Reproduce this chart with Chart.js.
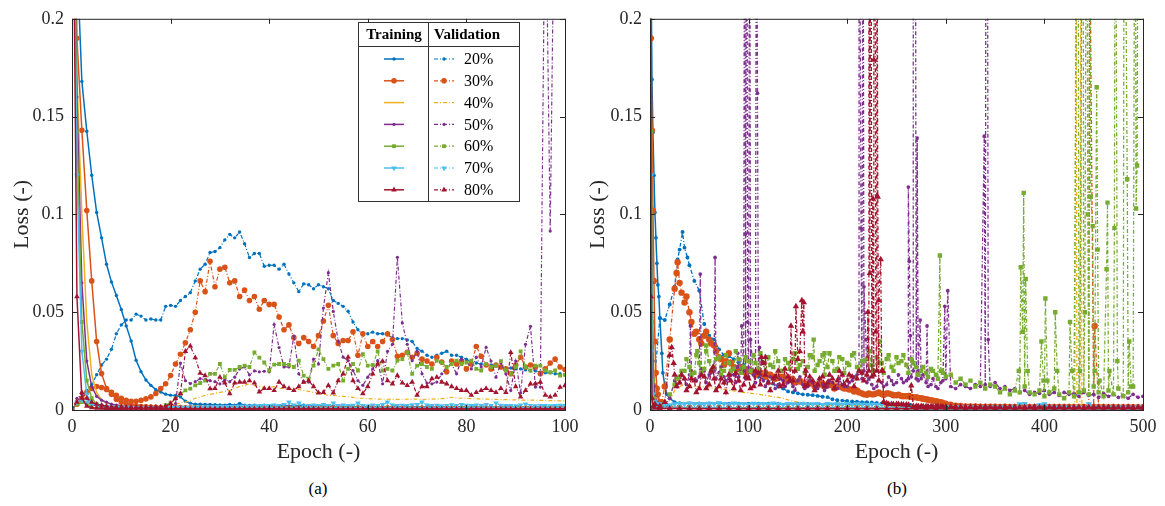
<!DOCTYPE html>
<html>
<head>
<meta charset="utf-8">
<script src="https://cdn.jsdelivr.net/npm/chart.js@4"></script>
<style>
  body { margin: 0; background: #fff; width: 1165px; height: 506px; position: relative; overflow: hidden; }
  .wrap { position: absolute; top: 0; height: 470px; }
  #wa { left: 0; width: 590px; }
  #wb { left: 580px; width: 585px; }
  .cap { position: absolute; top: 479px; width: 40px; text-align: center; font: 17px 'Liberation Serif', 'Times New Roman', serif; color: #000; }
</style>
</head>
<body>
<div class="wrap" id="wa"><canvas id="ca"></canvas></div>
<div class="wrap" id="wb"><canvas id="cb"></canvas></div>
<div class="cap" style="left:298px">(a)</div>
<div class="cap" style="left:877px">(b)</div>
<script>
// ---- data ----
const pctLabels = ['20%', '30%', '40%', '50%', '60%', '70%', '80%'];
const yTicks = { min: 0, max: 0.2, step: 0.05 };

// panel (a): one value per epoch, epochs 0..100
const epochsA = Array.from({ length: 101 }, (_, i) => i);

const trA20 = [.5,.232,.168,.1425,.120,.101,.088,.0745,.0655,.0585,
  .0514,.043,.0353,.0254,.0196,.0153,.0126,.0104,.0092,.0081,
  .0076,.0074,.0067,.0045,.0035,.003,.003,.0028,.0028,.0027,
  .0026,.0025,.0028,.0024,.0033,.0024,.0023,.0024,.0022,.0025,
  .0022,.0023,.0021,.0026,.0021,.0022,.002,.0024,.002,.0021,
  .002,.0019,.0021,.0019,.0018,.0019,.0018,.0018,.0017,.0018,
  .0017,.0017,.0018,.0017,.0016,.0017,.0016,.0016,.0017,.0016,
  .0016,.0016,.0015,.0016,.0015,.0016,.0015,.0015,.0015,.0016,
  .0015,.0015,.0015,.0014,.0015,.0015,.0014,.0015,.0014,.0014,
  .0014,.0015,.0014,.0014,.0014,.0014,.0014,.0013,.0014,.0014,
  .0013];
const trA30 = [.4,.19,.143,.102,.066,.035,.0186,.011,.008,.0055,
  .004,.003,.0025,.002,.0018,.0016,.0015,.0014,.0013,.0013,
  .0012,.0012,.0012,.0011,.0011,.0011,.0011,.001,.001,.001,
  .001,.001,.001,.001,.001,.001,.001,.001,.001,.001,
  .001,.001,.001,.001,.001,.001,.001,.001,.001,.001,
  .001,.001,.001,.001,.001,.00095,.00095,.00095,.00095,.00095,
  .00095,.00095,.00095,.00095,.00095,.00095,.00095,.00095,.00095,.00095,
  .0009,.0009,.0009,.0009,.0009,.0009,.0009,.0009,.0009,.0009,
  .0009,.0009,.0009,.0009,.0009,.0009,.0009,.0009,.0009,.0009,
  .0009,.0009,.0009,.0009,.0009,.0009,.0009,.0009,.0009,.0009,
  .0009];
const trA40 = [.35,.17,.10,.045,.018,.009,.005,.0035,.003,.0025,
  .002,.0018,.0016,.0015,.0014,.0013,.0013,.0012,.0012,.0012,
  .0011,.0011,.0011,.0011,.001,.001,.001,.001,.001,.001,
  .001,.001,.001,.001,.001,.001,.001,.001,.001,.001,
  .001,.001,.001,.001,.001,.001,.001,.001,.001,.001,
  .001,.001,.001,.001,.001,.00095,.00095,.00095,.00095,.00095,
  .00095,.00095,.00095,.00095,.00095,.00095,.00095,.00095,.00095,.00095,
  .00095,.00095,.00095,.00095,.00095,.0009,.0009,.0009,.0009,.0009,
  .0009,.0009,.0009,.0009,.0009,.0009,.0009,.0009,.0009,.0009,
  .0009,.0009,.0009,.0009,.0009,.0009,.0009,.0009,.0009,.0009,
  .0009];
const trA50 = [.35,.16,.065,.025,.012,.007,.005,.004,.003,.0025,
  .002,.0018,.0016,.0015,.0014,.0013,.0012,.0012,.0012,.0011,
  .0011,.0011,.001,.001,.001,.001,.001,.001,.001,.001,
  .001,.001,.001,.001,.001,.001,.001,.001,.001,.001,
  .001,.001,.001,.001,.001,.001,.001,.001,.00095,.00095,
  .00095,.00095,.00095,.00095,.00095,.00095,.00095,.00095,.00095,.00095,
  .00095,.00095,.00095,.00095,.0009,.0009,.0009,.0009,.0009,.0009,
  .0009,.0009,.0009,.0009,.0009,.0009,.0009,.0009,.0009,.0009,
  .0009,.0009,.0009,.0009,.0009,.0009,.0009,.0009,.0009,.0009,
  .00085,.00085,.00085,.00085,.00085,.00085,.00085,.00085,.00085,.00085,
  .00085];
const trA60 = [.35,.1425,.045,.015,.006,.003,.002,.0015,.0013,.0012,
  .0011,.001,.001,.001,.001,.00095,.00095,.00095,.00095,.00095,
  .0009,.0009,.0009,.0009,.0009,.0009,.0009,.0009,.0009,.0009,
  .0009,.0009,.0009,.0009,.0009,.00085,.00085,.00085,.00085,.00085,
  .00085,.00085,.00085,.00085,.00085,.00085,.00085,.00085,.00085,.00085,
  .00085,.00085,.00085,.00085,.00085,.0008,.0008,.0008,.0008,.0008,
  .0008,.0008,.0008,.0008,.0008,.0008,.0008,.0008,.0008,.0008,
  .0008,.0008,.0008,.0008,.0008,.0008,.0008,.0008,.0008,.0008,
  .0008,.0008,.0008,.0008,.0008,.0008,.0008,.0008,.0008,.0008,
  .0008,.0008,.0008,.0008,.0008,.0008,.0008,.0008,.0008,.0008,
  .0008];
const trA70 = [.35,.12,.03,.008,.003,.002,.0015,.0013,.0012,.0011,
  .001,.001,.00095,.00095,.00095,.0009,.0009,.0009,.0009,.0009,
  .0009,.0009,.0009,.00085,.00085,.00085,.00085,.00085,.00085,.00085,
  .00085,.00085,.00085,.00085,.00085,.00085,.00085,.0008,.0008,.0008,
  .0008,.0008,.0008,.0008,.0008,.0008,.0008,.0008,.0008,.0008,
  .0008,.0008,.0008,.0008,.0008,.0008,.0008,.0008,.0008,.0008,
  .0008,.0008,.0008,.0008,.0008,.0008,.0008,.0008,.0008,.0008,
  .0008,.0008,.0008,.0008,.0008,.0008,.0008,.0008,.0008,.0008,
  .0008,.0008,.0008,.0008,.0008,.0008,.0008,.0008,.0008,.0008,
  .0008,.0008,.0008,.0008,.0008,.0008,.0008,.0008,.0008,.0008,
  .0008];
const trA80 = [.34,.058,.006,.002,.0012,.001,.0009,.0008,.0008,.0008,
  .0007,.0007,.0007,.0007,.0007,.0007,.0007,.0007,.0007,.0007,
  .0007,.0007,.0007,.0007,.0007,.0007,.0007,.0007,.0007,.0007,
  .00065,.00065,.00065,.00065,.00065,.00065,.00065,.00065,.00065,.00065,
  .00065,.00065,.00065,.00065,.00065,.00065,.00065,.00065,.00065,.00065,
  .0006,.0006,.0006,.0006,.0006,.0006,.0006,.0006,.0006,.0006,
  .0006,.0006,.0006,.0006,.0006,.0006,.0006,.0006,.0006,.0006,
  .0006,.0006,.0006,.0006,.0006,.0006,.0006,.0006,.0006,.0006,
  .0006,.0006,.0006,.0006,.0006,.0006,.0006,.0006,.0006,.0006,
  .0006,.0006,.0006,.0006,.0006,.0006,.0006,.0006,.0006,.0006,
  .0006];

const vaA20 = [.001,.003,.006,.010,.013,.018,.023,.026,.031,.039,
  .0435,.046,.046,.049,.048,.046,.0465,.046,.046,.053,
  .0535,.053,.056,.058,.060,.066,.072,.0745,.0805,.081,
  .083,.087,.0898,.088,.091,.085,.078,.080,.080,.0735,
  .074,.074,.072,.0745,.0695,.065,.0605,.0645,.064,.062,
  .064,.063,.062,.056,.0545,.053,.0505,.045,.041,.0385,
  .039,.0398,.039,.039,.0385,.037,.0365,.0365,.0358,.035,
  .0315,.030,.028,.027,.028,.029,.030,.028,.028,.027,
  .026,.0245,.024,.0235,.023,.023,.0225,.022,.0215,.0215,
  .021,.021,.0205,.020,.020,.0195,.019,.019,.0185,.0185,
  .018];
const vaA30 = [0,.003,.006,.009,.011,.012,.0115,.0105,.009,.0075,
  .006,.005,.0045,.0045,.005,.0057,.0067,.0084,.011,.0134,
  .0176,.0235,.0285,.0344,.041,.050,.066,.0605,.076,.063,
  .072,.073,.065,.066,.058,.0613,.056,.058,.0515,.056,
  .054,.054,.0475,.041,.0435,.037,.034,.037,.035,.0325,
  .038,.0455,.0535,.038,.034,.0355,.0355,.040,.028,.039,
  .0325,.035,.0325,.035,.039,.036,.0275,.028,.0295,.027,
  .029,.026,.025,.0235,.027,.0245,.0195,.025,.0235,.025,
  .021,.0235,.0325,.0275,.023,.021,.023,.022,.021,.0185,
  .023,.027,.022,.023,.022,.0185,.021,.024,.026,.022,
  .0207];
const vaA40 = [0,.002,.004,.005,.004,.003,.0025,.002,.002,.002,
  .0018,.0015,.0015,.0015,.0015,.0015,.0015,.0015,.0016,.002,
  .0025,.003,.0035,.004,.005,.006,.0067,.0075,.008,.0085,
  .009,.0095,.010,.011,.012,.0125,.0135,.0125,.012,.0115,
  .0115,.012,.011,.011,.0105,.0105,.0105,.010,.0095,.009,
  .0085,.008,.0075,.0075,.007,.007,.0067,.0065,.006,.006,
  .0058,.0057,.0056,.0055,.0055,.0054,.0054,.0055,.0055,.0056,
  .0055,.0054,.0055,.0056,.0057,.0058,.006,.0065,.0062,.006,
  .006,.0058,.0057,.0057,.0056,.0055,.0054,.0053,.0053,.0052,
  .0052,.0051,.005,.005,.005,.0049,.0049,.0048,.0048,.0047,
  .0047];
const vaA50 = [0,.006,.008,.006,.004,.003,.0025,.002,.0018,.0015,
  .0013,.0012,.0012,.0012,.0012,.0012,.0012,.0012,.0012,.0013,
  .0015,.0033,.024,.015,.0135,.0145,.016,.0155,.015,.0145,
  .0134,.0155,.0145,.0168,.021,.022,.018,.020,.0195,.0198,
  .0195,.0437,.0319,.022,.022,.0378,.0185,.0143,.0143,.026,
  .0235,.0521,.0702,.0504,.0353,.027,.0252,.0202,.015,.0126,
  .0168,.021,.0252,.0134,.030,.0336,.0781,.0445,.0336,.0252,
  .030,.0185,.0138,.0134,.0143,.0185,.022,.0235,.0185,.026,
  .025,.021,.027,.022,.032,.025,.0168,.024,.0185,.010,
  .025,.0088,.0336,.0428,.0117,.0117,.28,.0915,.3,.4,
  .45];
const vaA60 = [0,.003,.004,.003,.002,.0015,.0012,.001,.001,.001,
  .001,.001,.001,.001,.001,.001,.001,.001,.0015,.0025,
  .0037,.006,.0083,.010,.0109,.0126,.0138,.015,.0185,.0185,
  .0235,.0168,.0205,.0205,.022,.0227,.022,.0294,.0268,.0243,
  .0202,.0232,.0235,.0235,.023,.022,.0252,.0176,.016,.0227,
  .031,.026,.021,.0227,.0235,.015,.021,.0235,.0202,.0285,
  .0227,.023,.030,.0202,.021,.0202,.0252,.026,.0294,.0185,
  .0227,.0235,.022,.021,.0252,.0243,.022,.0235,.0252,.0235,
  .0243,.0252,.021,.0202,.0235,.022,.0227,.025,.0202,.0185,
  .022,.030,.022,.0202,.0227,.0227,.0202,.0193,.0202,.0176,
  .018];
const vaA70 = [0,.004,.005,.004,.003,.0025,.002,.0018,.0016,.0015,
  .0014,.0013,.0013,.0012,.0012,.0012,.0012,.0012,.0012,.0012,
  .0012,.0013,.0013,.0014,.0014,.0015,.0015,.0016,.0016,.0017,
  .0017,.0018,.0018,.0019,.0019,.002,.002,.0021,.0021,.0022,
  .0022,.0025,.0022,.0028,.004,.0025,.0035,.002,.0022,.0025,
  .0022,.0028,.0023,.0035,.0022,.0025,.0022,.0024,.0035,.0022,
  .0021,.0025,.0022,.0028,.004,.0025,.0022,.0024,.0022,.0026,
  .0028,.004,.0025,.0022,.0024,.0021,.0023,.0026,.0022,.0028,
  .0024,.0022,.0025,.0022,.0027,.0023,.0035,.0024,.0022,.0023,
  .0021,.0025,.003,.0022,.0021,.0023,.0022,.0021,.0022,.0024,
  .0022];
const vaA80 = [0,.004,.009,.006,.004,.003,.0025,.002,.0016,.0015,
  .0015,.0014,.0014,.0014,.0014,.0014,.0014,.0015,.0016,.002,
  .0033,.0059,.0083,.030,.0327,.0268,.0188,.0176,.0109,.011,
  .0168,.0138,.0084,.0138,.0143,.0143,.015,.0138,.0092,.011,
  .011,.010,.0143,.012,.011,.010,.012,.0143,.015,.012,
  .0088,.009,.0126,.0088,.015,.0185,.027,.015,.011,.0084,
  .012,.0185,.0235,.025,.015,.0134,.0176,.0138,.0126,.0143,
  .0076,.012,.012,.016,.0168,.0143,.0134,.012,.011,.010,
  .010,.0076,.009,.010,.011,.010,.009,.011,.009,.0294,
  .012,.0067,.010,.0134,.0134,.0143,.0076,.0067,.0076,.0117,
  .0125];

// panel (b): validation every 5 epochs, training every 10 epochs,
// in-between readings for the noisy bands (epochs 27, 32, ... 297),
// plus extra [epoch, loss] points for early decay and spikes
const epochsB5 = Array.from({ length: 101 }, (_, i) => i * 5);
const epochsB10 = Array.from({ length: 51 }, (_, i) => i * 10);
const epochsBMid = Array.from({ length: 55 }, (_, i) => 27 + i * 5);

const trB20 = [.5,.047,.006,.0035,.0034,.0034,.0034,.0034,.0033,.0033,
  .0033,.0033,.0032,.0032,.0032,.0032,.0031,.0031,.0031,.003,
  .003,.003,.0029,.0029,.0028,.0028,.0027,.0011,.001,.001,
  .001,.001,.00095,.00095,.0009,.0009,.0009,.0009,.00085,.00085,
  .00085,.00085,.0008,.0008,.0008,.0008,.00075,.00075,.00075,.00075,
  .00075];
const trB30 = [.4,.004,.0015,.0013,.0012,.0012,.0011,.0011,.0011,.001,
  .001,.001,.001,.001,.001,.001,.001,.001,.001,.001,
  .001,.001,.00095,.00095,.00095,.00095,.0009,.0009,.0009,.0009,
  .0009,.0009,.0009,.0009,.0009,.00085,.00085,.00085,.00085,.00085,
  .00085,.00085,.00085,.0008,.0008,.0008,.0008,.0008,.0008,.0008,
  .0008];
const trB40 = [.35,.002,.0013,.0012,.0011,.0011,.0011,.001,.001,.001,
  .001,.001,.001,.001,.001,.001,.001,.00095,.00095,.00095,
  .00095,.00095,.0009,.0009,.0009,.0009,.0009,.0009,.0009,.0009,
  .00085,.00085,.00085,.00085,.00085,.00085,.00085,.00085,.0008,.0008,
  .0008,.0008,.0008,.0008,.0008,.0008,.0008,.0008,.0008,.0008,
  .0008];
const trB50 = [.35,.002,.0013,.0012,.0012,.0011,.0011,.0011,.001,.001,
  .001,.001,.001,.001,.001,.001,.001,.001,.00095,.00095,
  .00095,.00095,.00095,.0009,.0009,.0009,.0009,.0009,.0009,.0009,
  .0009,.0009,.00085,.00085,.00085,.00085,.00085,.00085,.00085,.00085,
  .0008,.0008,.0008,.0008,.0008,.0008,.0008,.0008,.0008,.0008,
  .0008];
const trB60 = [.35,.0012,.001,.001,.00095,.00095,.0009,.0009,.0009,.0009,
  .0009,.00085,.00085,.00085,.00085,.00085,.0008,.0008,.0008,.0008,
  .0008,.0008,.0008,.0008,.00075,.00075,.00075,.00075,.00075,.00075,
  .00075,.00075,.0007,.0007,.0007,.0007,.0007,.0007,.0007,.0007,
  .0007,.0007,.0007,.0007,.0007,.0007,.0007,.0007,.0007,.0007,
  .0007];
const trB70 = [.35,.001,.0009,.0009,.0009,.00085,.00085,.00085,.00085,.0008,
  .0008,.0008,.0008,.0008,.0008,.0008,.0008,.0008,.00075,.00075,
  .00075,.00075,.00075,.00075,.00075,.00075,.00075,.0007,.0007,.0007,
  .0007,.0007,.0007,.0007,.0007,.0007,.0007,.0007,.0007,.0007,
  .0007,.0007,.0007,.0007,.0007,.0007,.0007,.0007,.0007,.0007,
  .0007];
const trB80 = [.34,.0008,.0008,.0008,.0007,.0007,.0007,.0007,.0007,.0007,
  .0007,.0007,.0007,.0007,.0007,.0007,.0007,.00065,.00065,.00065,
  .00065,.00065,.00065,.00065,.00065,.00065,.00065,.00065,.00065,.00065,
  .0006,.0006,.0006,.0006,.0006,.0006,.0006,.0006,.0006,.0006,
  .0006,.0006,.0006,.0006,.0006,.0006,.0006,.0006,.0006,.0006,
  .0006];
const trBExtra20 = [[1,.23],[2,.169],[3,.142],[4,.12],[5,.101],[6,.088],[7,.075],[8,.064],[9,.058],[12,.029],[13,.019],[15,.0126],[17,.008],[25,.004],[264,.0027]];
const trBExtra30 = [[1,.19],[2,.143],[3,.102],[4,.066],[5,.035],[6,.019],[7,.011],[8,.008],[15,.002]];
const trBExtra40 = [[1,.17],[2,.1],[3,.045],[4,.018],[5,.009],[7,.0035]];
const trBExtra50 = [[1,.16],[2,.065],[3,.025],[4,.012],[5,.007],[7,.004]];
const trBExtra60 = [[1,.1425],[2,.045],[3,.015],[4,.006],[5,.003]];
const trBExtra70 = [[1,.12],[2,.03],[3,.008],[4,.003],[5,.002]];
const trBExtra80 = [[1,.058],[2,.006],[3,.002],[5,.001]];

const vaB20 = [.001,.018,.047,.046,.054,.063,.082,.083,.074,.066,
  .061,.044,.038,.036,.031,.028,.0275,.026,.024,.023,
  .021,.019,.017,.016,.0145,.0135,.012,.011,.0095,.009,
  .0085,.008,.0078,.0076,.0072,.0068,.0066,.0055,.005,.0048,
  .0046,.0044,.0042,.004,.004,.0038,.0036,.0034,.0032,.003,
  .0028,.0026,.0024,.0015,.0012,.0011,.0011,.001,.001,.001,
  .001,.001,.001,.00095,.00095,.00095,.0009,.0009,.0009,.0009,
  .0009,.0009,.00085,.00085,.00085,.00085,.0008,.0008,.0008,.0008,
  .0008,.0008,.0008,.0008,.0008,.00075,.00075,.00075,.00075,.00075,
  .00075,.00075,.0007,.0007,.0007,.0007,.0007,.0007,.0007,.0007,
  .0007];
const vaB30 = [0,.009,.004,.012,.036,.062,.065,.055,.05,.039,
  .036,.038,.036,.033,.027,.023,.029,.022,.021,.020,
  .021,.019,.0195,.0185,.018,.017,.0165,.017,.016,.0155,
  .0145,.014,.0135,.0135,.013,.0135,.0125,.0125,.012,.0115,
  .011,.0105,.010,.0085,.0078,.008,.0085,.0082,.0084,.008,
  .0075,.0072,.007,.0068,.0065,.006,.0055,.005,.0045,.004,
  .0032,.0027,.0022,.002,.0018,.0018,.0018,.0017,.0017,.0017,
  .0017,.0016,.0017,.0016,.0016,.0016,.0017,.0016,.0016,.0016,
  .0016,.0015,.0016,.0015,.0016,.0015,.0015,.0016,.0015,.0015,
  .0015,.0015,.0015,.0014,.0015,.0014,.0014,.0015,.0014,.0014,
  .0014];
const vaB40 = [0,.004,.002,.002,.005,.010,.012,.013,.0125,.012,
  .012,.0118,.0115,.011,.0108,.0105,.010,.0098,.0095,.009,
  .0088,.0084,.008,.0076,.0072,.0068,.0064,.006,.0052,.0045,
  .004,.0035,.003,.0028,.0027,.0026,.0026,.0025,.0025,.0025,
  .0024,.0024,.0024,.0023,.0023,.0023,.0022,.0022,.0022,.0022,
  .0021,.0021,.0021,.002,.002,.002,.002,.002,.0019,.0019,
  .0019,.0019,.0019,.0018,.0018,.0018,.0018,.0018,.0018,.0017,
  .0017,.0017,.0017,.0017,.0017,.0016,.0016,.0016,.0016,.0016,
  .0016,.0016,.0016,.0016,.0016,.0016,.0016,.0015,.0016,.0016,
  .0015,.0015,.0015,.0015,.0015,.0015,.0015,.0015,.0015,.0015,
  .0015];
const vaB50 = [0,.003,.0015,.0015,.006,.015,.014,.016,.018,.019,
  .017,.02,.018,.02,.019,.017,.016,.018,.017,.02,
  .017,.018,.019,.015,.014,.016,.013,.015,.014,.012,
  .015,.013,.012,.014,.011,.013,.012,.014,.011,.013,
  .012,.015,.018,.016,.014,.013,.012,.014,.013,.015,
  .014,.016,.015,.017,.016,.016,.014,.013,.012,.014,
  .016,.012,.011,.013,.012,.011,.013,.012,.013,.012,
  .014,.011,.012,.01,.011,.009,.01,.008,.009,.0085,
  .01,.008,.009,.0075,.009,.008,.0085,.007,.009,.0075,
  .008,.0065,.0085,.007,.008,.0065,.0075,.006,.008,.0065,
  .007];
const vaB60 = [0,.003,.002,.003,.008,.013,.017,.02,.022,.019,
  .024,.021,.025,.022,.027,.02,.024,.021,.026,.022,
  .025,.028,.021,.024,.027,.022,.025,.02,.024,.026,
  .021,.025,.022,.027,.023,.028,.022,.025,.021,.026,
  .024,.028,.022,.025,.026,.023,.027,.024,.026,.022,
  .027,.025,.023,.026,.022,.02,.019,.021,.018,.02,
  .017,.018,.014,.016,.013,.015,.012,.014,.011,.013,
  .012,.009,.011,.008,.01,.009,.012,.009,.008,.01,
  .007,.009,.011,.008,.006,.009,.007,.009,.01,.008,
  .012,.009,.007,.01,.008,.011,.007,.009,.012,.3,
  .3];
const vaB70 = [0,.004,.003,.0025,.0025,.003,.0032,.003,.0034,.003,
  .0032,.0028,.0033,.003,.0035,.0031,.0029,.0034,.003,.0032,
  .0028,.0033,.003,.0031,.0029,.0034,.003,.0028,.0032,.003,
  .0029,.0033,.0028,.003,.0031,.0027,.0032,.0029,.003,.0028,
  .0031,.0027,.003,.0028,.0026,.0029,.0027,.0028,.0026,.0027,
  .0025,.0027,.0025,.0015,.0014,.0015,.0013,.0014,.0013,.0014,
  .0013,.0014,.0012,.0013,.0014,.0012,.0013,.0012,.0014,.0012,
  .0013,.0012,.0013,.0012,.0014,.003,.0032,.0013,.0012,.0025,
  .003,.0013,.0012,.0013,.0012,.0013,.0012,.0014,.0012,.003,
  .0013,.0012,.0013,.0012,.0014,.0012,.0013,.0012,.0012,.0013,
  .0012];
const vaB80 = [0,.003,.002,.004,.028,.018,.014,.016,.012,.015,
  .011,.017,.013,.016,.012,.014,.018,.011,.015,.013,
  .016,.012,.019,.024,.014,.016,.02,.013,.017,.015,
  .026,.04,.013,.015,.013,.017,.014,.016,.015,.018,
  .015,.017,.016,.019,.018,.017,.02,.02,.0035,.003,
  .003,.0028,.0027,.0125,.002,.0019,.0018,.0018,.0018,.0017,
  .0017,.0017,.0017,.0016,.0016,.0016,.0016,.0016,.0016,.0015,
  .0015,.0015,.0016,.0015,.0015,.0015,.0015,.0015,.0016,.0015,
  .0015,.0015,.0015,.0014,.0015,.0015,.0015,.0014,.0015,.0014,
  .0015,.0014,.0014,.0015,.0014,.0014,.0014,.0014,.0015,.0014,
  .0014];

// in-between readings (epochs 27..297) of the dense bands
const vaBMid30 = [.07,.06,.058,.045,.04,.034,.04,.034,.03,.026,
  .025,.024,.021,.022,.019,.02,.018,.019,.017,.018,
  .016,.017,.015,.016,.014,.015,.013,.014,.012,.013,
  .012,.013,.011,.012,.011,.0105,.0095,.009,.008,.0085,
  .008,.009,.0078,.0085,.0075,.0078,.007,.0072,.0065,.0062,
  .0058,.0052,.0048,.0042,.0036];
const vaBMid50 = [.012,.018,.013,.02,.015,.021,.014,.019,.016,.022,
  .015,.018,.014,.021,.016,.02,.014,.018,.012,.017,
  .011,.016,.012,.015,.01,.017,.011,.015,.012,.016,
  .01,.015,.011,.016,.012,.014,.017,.02,.02,.016,
  .011,.015,.012,.017,.013,.018,.014,.016,.02,.015,
  .018,.012,.016,.011,.015];
const vaBMid60 = [.016,.02,.026,.018,.028,.019,.03,.02,.026,.018,
  .028,.02,.03,.019,.027,.02,.024,.029,.019,.023,
  .03,.02,.026,.021,.029,.023,.019,.028,.02,.025,
  .018,.029,.02,.027,.019,.023,.029,.02,.025,.03,
  .02,.024,.019,.028,.02,.024,.028,.019,.024,.018,
  .022,.017,.02,.016,.019];
const vaBMid80 = [.012,.018,.01,.016,.009,.018,.011,.02,.01,.016,
  .009,.015,.019,.01,.017,.011,.02,.013,.018,.01,
  .017,.012,.021,.015,.02,.03,.012,.017,.01,.016,
  .012,.018,.011,.02,.013,.018,.012,.02,.015,.02,
  .018,.015,.004,.003,.0028,.003,.0027,.0025,.002,.0019,
  .0018,.0018,.0017,.0018,.0017];

const vaBExtra20 = [[28,.077],[33,.091],[38,.078]];
const vaBExtra30 = [[3,.0126],[12,.0037],[28,.0755],[446,.25],[451,.043]];
const vaBExtra40 = [[431,.002],[432,.3],[433,.002],[436,.002],[437,.3],[438,.002]];
const vaBExtra50 = [[41,.043],[51,.0695],[66,.078],[89,.029],[93,.043],[96,.35],[97,.09],[98,.35],[99,.045],
  [101,.35],[102,.036],[108,.35],[109,.162],[111,.032],[212,.35],[214,.093],[216,.35],[217,.063],[219,.036],
  [262,.114],[263,.076],[264,.038],[267,.35],[269,.35],[271,.139],[272,.02],[274,.046],[281,.043],
  [299,.053],[302,.061],[339,.14],[341,.35],[342,.35],[343,.036]];
const vaBExtra60 = [[48,.03],[57,.033],[166,.036],[177,.029],[233,.035],[294,.079],[296,.02],[374,.02],[376,.073],
  [378,.04],[379,.111],[381,.067],[383,.02],[397,.035],[399,.015],[401,.057],[403,.015],[411,.05],[413,.02],
  [426,.045],[428,.02],[434,.35],[436,.02],[439,.35],[441,.05],[443,.35],[444,.1],[446,.35],[447,.109],
  [449,.094],[451,.02],[453,.165],[454,.082],[456,.015],[463,.072],[464,.106],[466,.02],[471,.093],[472,.35],
  [474,.025],[481,.35],[484,.118],[486,.035],[488,.012],[492,.35],[493,.103],[494,.125]];
const vaBExtra70 = [];
const vaBExtra80 = [[22,.032],[24,.024],[64,.022],[113,.027],[117,.027],[143,.043],[148,.053],[154,.056],[156,.055],
  [158,.02],[221,.05],[222,.35],[223,.07],[224,.35],[226,.108],[227,.179],[228,.35],[229,.04],[230,.35],
  [231,.109],[232,.056],[234,.077],[236,.02],[237,.004]];

// ---- styling ----
const FONT = "'Liberation Serif', 'Times New Roman', serif";
const INK = '#262626';
const colors = ['#0072BD', '#D95319', '#EDB120', '#7E2F8E', '#77AC30', '#4DBEEE', '#A2142F'];
const marks = ['circle', 'circle', false, 'circle', 'rect', 'triangle', 'triangle'];
const rots = [0, 0, 0, 0, 0, 180, 0];
const radii = [1.7, 2.8, 0, 1.6, 2.7, 3.2, 3.2];
const valDash = [4, 2, 1, 2];

function pointsA(vals) { return epochsA.map((e, i) => ({ x: e, y: vals[i] })); }
function pointsB(grid, vals, extra, mid) {
  const pts = grid.map((e, i) => ({ x: e, y: vals[i] }));
  if (mid) mid.forEach((v, i) => pts.push({ x: epochsBMid[i], y: v }));
  extra.forEach(([x, y]) => pts.push({ x, y }));
  return pts.sort((a, b) => a.x - b.x);
}

function series(i, data, isVal, scale, lw) {
  return {
    label: pctLabels[i] + (isVal ? ' val' : ' train'),
    data,
    borderColor: colors[i],
    backgroundColor: colors[i],
    borderWidth: isVal ? lw : 1.5,
    borderDash: isVal ? valDash : [],
    pointStyle: marks[i] || 'circle',
    pointRadius: marks[i] ? radii[i] * scale : 0,
    pointRotation: rots[i],
    pointBorderWidth: 0,
    pointBackgroundColor: colors[i],
    tension: 0,
    fill: false,
    order: 100 - (2 * i + (isVal ? 1 : 0))
  };
}

const trA = [trA20, trA30, trA40, trA50, trA60, trA70, trA80];
const vaA = [vaA20, vaA30, vaA40, vaA50, vaA60, vaA70, vaA80];
const trB = [trB20, trB30, trB40, trB50, trB60, trB70, trB80];
const trBX = [trBExtra20, trBExtra30, trBExtra40, trBExtra50, trBExtra60, trBExtra70, trBExtra80];
const vaB = [vaB20, vaB30, vaB40, vaB50, vaB60, vaB70, vaB80];
const vaBM = [null, vaBMid30, null, vaBMid50, vaBMid60, null, vaBMid80];
const vaBX = [vaBExtra20, vaBExtra30, vaBExtra40, vaBExtra50, vaBExtra60, vaBExtra70, vaBExtra80];

const setsA = [], setsB = [];
for (let i = 0; i < 7; i++) {
  setsA.push(series(i, pointsA(trA[i]), false, 1, 1.2));
  setsA.push(series(i, pointsA(vaA[i]), true, 1, 1.2));
  setsB.push(series(i, pointsB(epochsB10, trB[i], trBX[i], null), false, 1.1, 1.3));
  setsB.push(series(i, pointsB(epochsB5, vaB[i], vaBX[i], vaBM[i]), true, 1.15, 1.3));
}

// box round the plot with inward ticks on all four sides
const boxPlugin = {
  id: 'box',
  afterDatasetsDraw(chart) {
    const { ctx, chartArea: a, scales: { x, y } } = chart;
    ctx.save();
    ctx.strokeStyle = INK;
    ctx.lineWidth = 1;
    ctx.strokeRect(a.left + 0.5, a.top + 0.5, a.right - a.left, a.bottom - a.top);
    ctx.beginPath();
    x.ticks.forEach(t => {
      const px = Math.round(x.getPixelForValue(t.value)) + 0.5;
      ctx.moveTo(px, a.bottom); ctx.lineTo(px, a.bottom - 5);
      ctx.moveTo(px, a.top); ctx.lineTo(px, a.top + 5);
    });
    y.ticks.forEach(t => {
      const py = Math.round(y.getPixelForValue(t.value)) + 0.5;
      ctx.moveTo(a.left, py); ctx.lineTo(a.left + 5, py);
      ctx.moveTo(a.right, py); ctx.lineTo(a.right - 5, py);
    });
    ctx.stroke();
    ctx.restore();
  }
};

// the Training / Validation table in panel (a)
const legendTable = {
  id: 'legendTable',
  afterDraw(chart) {
    const ctx = chart.ctx;
    const L = 358, R = 519, T = 22, B = 201, mid = 428, head = 46;
    ctx.save();
    ctx.fillStyle = '#fff';
    ctx.fillRect(L, T, R - L, B - T);
    ctx.strokeStyle = '#333';
    ctx.lineWidth = 1;
    ctx.strokeRect(L + 0.5, T + 0.5, R - L, B - T);
    ctx.beginPath();
    ctx.moveTo(L, head + 0.5); ctx.lineTo(R, head + 0.5);
    ctx.moveTo(mid + 0.5, T); ctx.lineTo(mid + 0.5, B);
    ctx.stroke();
    ctx.fillStyle = '#000';
    ctx.font = 'bold 15px ' + FONT;
    ctx.textAlign = 'center';
    ctx.textBaseline = 'middle';
    ctx.fillText('Training', 394, 35);
    ctx.fillText('Validation', 467, 35);
    ctx.font = '16px ' + FONT;
    ctx.textAlign = 'left';
    pctLabels.forEach((lab, i) => {
      const yy = 59 + i * 21.8;
      [[384, 404, false], [434, 454, true]].forEach(([x0, x1, dash]) => {
        ctx.strokeStyle = colors[i];
        ctx.fillStyle = colors[i];
        ctx.lineWidth = dash ? 1.2 : 1.5;
        ctx.setLineDash(dash ? valDash : []);
        ctx.beginPath(); ctx.moveTo(x0, yy); ctx.lineTo(x1, yy); ctx.stroke();
        ctx.setLineDash([]);
        if (marks[i]) {
          Chart.helpers.drawPoint(ctx, { pointStyle: marks[i], rotation: rots[i], radius: radii[i], borderWidth: 0 }, (x0 + x1) / 2, yy);
        }
      });
      ctx.fillStyle = '#000';
      ctx.fillText(lab, 464, yy + 1);
    });
    ctx.restore();
  }
};

function makeChart(id, datasets, xMax, xStep, yAxisW, padRight, yTitlePad, extraPlugins) {
  const tickFont = { family: FONT, size: 18 };
  const titleFont = { family: FONT, size: 22 };
  return new Chart(document.getElementById(id), {
    type: 'line',
    data: { datasets },
    options: {
      responsive: true,
      maintainAspectRatio: false,
      animation: false,
      layout: { padding: { top: 14, right: padRight, left: 0, bottom: 0 } },
      plugins: { legend: { display: false }, tooltip: { enabled: false } },
      scales: {
        x: {
          type: 'linear', min: 0, max: xMax,
          ticks: { stepSize: xStep, font: tickFont, color: INK, padding: 6, maxRotation: 0 },
          grid: { display: false, drawTicks: false },
          border: { display: false },
          title: { display: true, text: 'Epoch (-)', font: titleFont, color: INK, padding: { top: 0, bottom: 5 } },
          afterFit(s) { s.height = 60; }
        },
        y: {
          min: yTicks.min, max: yTicks.max,
          ticks: { stepSize: yTicks.step, font: tickFont, color: INK, padding: 8, callback: v => String(+v.toFixed(2)) },
          grid: { display: false, drawTicks: false },
          border: { display: false },
          title: { display: true, text: 'Loss (-)', font: titleFont, color: INK, padding: { top: yTitlePad, bottom: 0 } },
          afterFit(s) { s.width = yAxisW; }
        }
      }
    },
    plugins: [boxPlugin].concat(extraPlugins)
  });
}

makeChart('ca', setsA, 100, 20, 72, 25, 9, [legendTable]);
makeChart('cb', setsB, 500, 100, 70, 22, 5, []);
</script>
</body>
</html>
